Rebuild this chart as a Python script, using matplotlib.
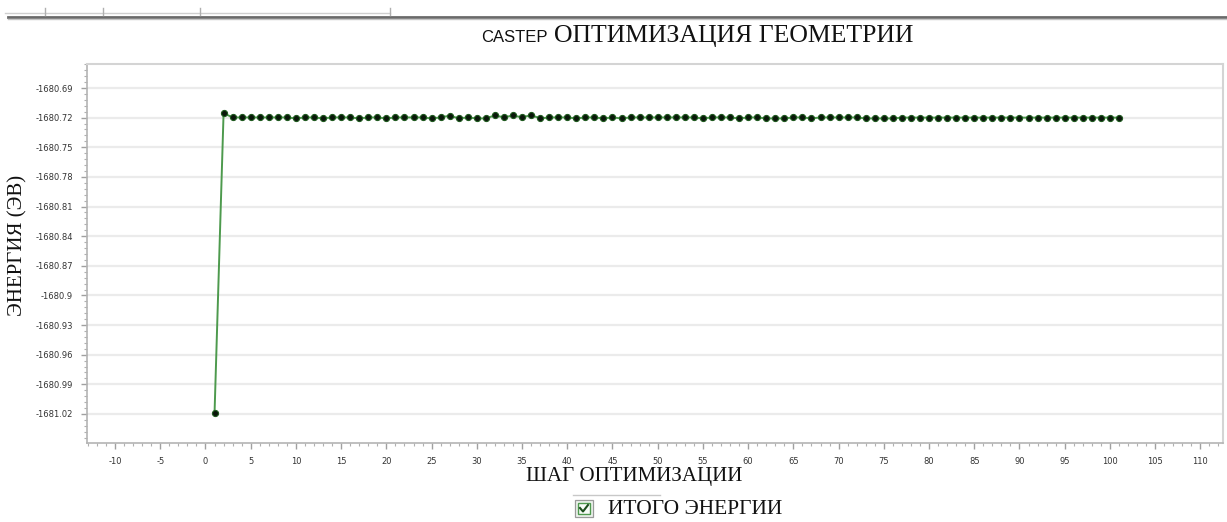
import matplotlib
matplotlib.use("Agg")
import matplotlib.pyplot as plt
from matplotlib.lines import Line2D
from matplotlib.patches import Rectangle
from matplotlib.ticker import FixedLocator, MultipleLocator

plt.rcParams["axes.unicode_minus"] = False

# Optimisation history: total energy (eV) per step
steps = list(range(1, 102))
energy = [
    -1681.0195, -1680.7155, -1680.7198, -1680.7198, -1680.7198,
    -1680.7198, -1680.7198, -1680.7198, -1680.7198, -1680.7208,
    -1680.7198, -1680.7198, -1680.7208, -1680.7198, -1680.7198,
    -1680.7198, -1680.7208, -1680.7198, -1680.7198, -1680.7208,
    -1680.7198, -1680.7198, -1680.7198, -1680.7198, -1680.7208,
    -1680.7198, -1680.7180, -1680.7208, -1680.7198, -1680.7208,
    -1680.7208, -1680.7177, -1680.7198, -1680.7177, -1680.7198,
    -1680.7174, -1680.7208, -1680.7198, -1680.7198, -1680.7198,
    -1680.7208, -1680.7198, -1680.7198, -1680.7208, -1680.7198,
    -1680.7208, -1680.7198, -1680.7198, -1680.7198, -1680.7198,
    -1680.7198, -1680.7198, -1680.7198, -1680.7198, -1680.7208,
    -1680.7198, -1680.7198, -1680.7198, -1680.7208, -1680.7198,
    -1680.7198, -1680.7208, -1680.7208, -1680.7208, -1680.7198,
    -1680.7198, -1680.7208, -1680.7198, -1680.7198, -1680.7198,
    -1680.7198, -1680.7198, -1680.7208, -1680.7208, -1680.7208,
    -1680.7208, -1680.7200, -1680.7200, -1680.7200, -1680.7200,
    -1680.7200, -1680.7200, -1680.7200, -1680.7200, -1680.7200,
    -1680.7200, -1680.7200, -1680.7200, -1680.7200, -1680.7200,
    -1680.7200, -1680.7200, -1680.7200, -1680.7200, -1680.7200,
    -1680.7200, -1680.7200, -1680.7200, -1680.7200, -1680.7200,
    -1680.7200,
]

y_ticks = [-1680.69, -1680.72, -1680.75, -1680.78, -1680.81, -1680.84,
           -1680.87, -1680.90, -1680.93, -1680.96, -1680.99, -1681.02]
y_tick_labels = ["-1680.69", "-1680.72", "-1680.75", "-1680.78", "-1680.81",
                 "-1680.84", "-1680.87", "-1680.9", "-1680.93", "-1680.96",
                 "-1680.99", "-1681.02"]
x_ticks = list(range(-10, 111, 5))

title_prefix = "CASTEP"
title_main = "ОПТИМИЗАЦИЯ ГЕОМЕТРИИ"
x_label = "ШАГ ОПТИМИЗАЦИИ"
y_label = "ЭНЕРГИЯ (ЭВ)"
legend_label = "ИТОГО ЭНЕРГИИ"

W, H = 1227, 522
fig = plt.figure(figsize=(W / 100, H / 100), dpi=100)
fig.patch.set_facecolor("white")


def fx(px):
    return px / W


def fy(py):
    return 1 - py / H


ax = fig.add_axes([fx(87), fy(443), fx(1223) - fx(87), fy(64) - fy(443)])
ax.set_xlim(-13.1, 112.5)
ax.set_ylim(-1681.0494, -1680.6657)

ax.yaxis.set_major_locator(FixedLocator(y_ticks))
ax.set_yticklabels(y_tick_labels)
ax.yaxis.set_minor_locator(MultipleLocator(0.006))
ax.xaxis.set_major_locator(FixedLocator(x_ticks))
ax.set_xticklabels([str(v) for v in x_ticks])
ax.xaxis.set_minor_locator(MultipleLocator(1))

ax.grid(axis="y", which="major", color="#ebebeb", linewidth=1.6, zorder=0)
ax.set_axisbelow(True)

for side in ("top", "right"):
    ax.spines[side].set_color("#d4d4d4")
    ax.spines[side].set_linewidth(1.5)
for side in ("left", "bottom"):
    ax.spines[side].set_color("#b4b4b4")
    ax.spines[side].set_linewidth(1.2)

ax.tick_params(axis="both", which="major", direction="out", length=4,
               width=1, color="#a0a0a0", labelsize=6, labelcolor="#333333",
               pad=6)
ax.tick_params(axis="both", which="minor", direction="out", length=2.5,
               width=0.8, color="#b0b0b0")
for lbl in ax.get_xticklabels() + ax.get_yticklabels():
    lbl.set_family("DejaVu Sans")

ax.plot(steps, energy, color="#4d9a4d", linewidth=1.4, zorder=2)
ax.plot(steps, energy, linestyle="none", marker="o", markersize=4.4,
        markerfacecolor="#0a160a", markeredgecolor="#1f5a1f",
        markeredgewidth=0.8, zorder=3)

# Titles and axis labels
fig.text(fx(548), fy(38), title_prefix, family="Liberation Sans",
         fontsize=12, ha="right", va="center", color="#111111")
fig.text(fx(554), fy(36), title_main, family="Liberation Serif",
         fontsize=18.5, ha="left", va="center", color="#111111")
fig.text(fx(634), fy(477), x_label, family="Liberation Serif",
         fontsize=15, ha="center", va="center", color="#111111")
fig.text(fx(18), fy(245), y_label, family="Liberation Serif",
         fontsize=15, ha="center", va="center", rotation=90,
         color="#111111")

# Legend entry with a checkbox
fig.add_artist(Line2D([fx(573), fx(660)], [fy(495), fy(495)],
                      color="#c8c8c8", linewidth=1.0))
fig.add_artist(Rectangle((fx(575), fy(517)), fx(18), fy(500) - fy(517),
                         facecolor="#eef4ee", edgecolor="#9a9a9a",
                         linewidth=0.9))
fig.add_artist(Rectangle((fx(578), fy(514)), fx(12), fy(503) - fy(514),
                         facecolor="#f7fbf7", edgecolor="#4f9a4f",
                         linewidth=1.0))
fig.add_artist(Line2D([fx(580), fx(583), fx(588)],
                      [fy(508), fy(511.5), fy(505)],
                      color="#1d4d1d", linewidth=1.5))
fig.text(fx(608), fy(509), legend_label, family="Liberation Serif",
         fontsize=15.5, ha="left", va="center", color="#111111")

# Window header strip along the top edge
fig.add_artist(Line2D([fx(8), fx(1227)], [fy(16.5), fy(16.5)],
                      color="#6a6a6a", linewidth=2.0))
fig.add_artist(Line2D([fx(8), fx(1227)], [fy(18.5), fy(18.5)],
                      color="#c4c4c4", linewidth=1.0))
fig.add_artist(Line2D([fx(5), fx(390)], [fy(13), fy(13)],
                      color="#d0d0d0", linewidth=1.0))
for sx in (45, 103, 200, 390):
    fig.add_artist(Line2D([fx(sx), fx(sx)], [fy(8), fy(15)],
                          color="#b0b0b0", linewidth=1.0))

fig.savefig("out.png", dpi=100, facecolor="white")
